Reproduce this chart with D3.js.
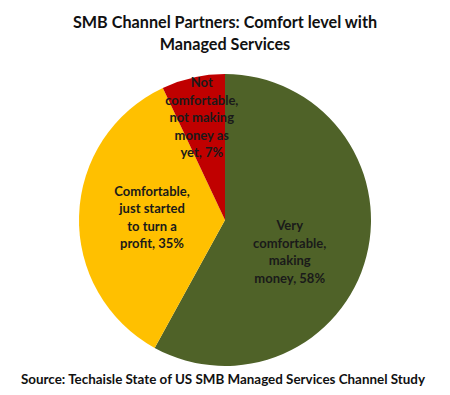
<!DOCTYPE html>
<html><head><meta charset="utf-8">
<script src="https://cdn.jsdelivr.net/npm/d3@7"></script>
<style>body{margin:0;background:#fff}svg{display:block}</style>
</head><body>
<script>
const categories = ["Very comfortable, making money", "Comfortable, just started to turn a profit", "Not comfortable, not making money as yet"];
const values = [58, 35, 7];
const labelLines = [
  ["Very", "comfortable,", "making", "money, 58%"],
  ["Comfortable,", "just started", "to turn a", "profit, 35%"],
  ["Not", "comfortable,", "not making", "money as", "yet, 7%"]
];
const colors = ["#4f6228", "#ffc000", "#c00000"];
const titleLines = ["SMB Channel Partners: Comfort level with", "Managed Services"];
const sourceText = "Source: Techaisle State of US SMB Managed Services Channel Study";

const W = 450, H = 395;
const cx = 225, cy = 220, R = 146;
const font = "Lato, 'Open Sans', sans-serif";
const svg = d3.select("body").append("svg").attr("width", W).attr("height", H);

svg.selectAll("text.title").data(titleLines).join("text")
  .attr("x", W/2).attr("y", (d,i) => 28 + i*22)
  .attr("text-anchor", "middle").attr("font-family", font).attr("font-weight", "bold")
  .attr("font-size", 16.2).attr("fill", "#111").text(d => d);

const pie = d3.pie().sort(null).value(d => d);
const arcs = pie(values);
const arc = d3.arc().innerRadius(0).outerRadius(R);
const g = svg.append("g").attr("transform", `translate(${cx},${cy})`);
g.selectAll("path").data(arcs).join("path").attr("d", arc).attr("fill", (d,i) => colors[i]);

const labelR = [0.5, 0.5, 0.73];
const labelShift = [[-6, 14], [0, 0], [0, 1.5]];
const lh = 17.5;
arcs.forEach((a, i) => {
  const la = d3.arc().innerRadius(R*labelR[i]).outerRadius(R*labelR[i]);
  const [x, y] = la.centroid(a);
  const lines = labelLines[i];
  const x0 = x + labelShift[i][0], y0 = y + labelShift[i][1];
  const t = g.append("text").attr("text-anchor", "middle").attr("font-family", font)
    .attr("font-weight", "bold").attr("font-size", 13).attr("fill", "#1a1a1a");
  lines.forEach((ln, j) => {
    t.append("tspan").attr("x", x0).attr("y", y0 + (j - (lines.length-1)/2)*lh + 4.5).text(ln);
  });
});

svg.append("text").attr("x", W/2 - 2).attr("y", 384).attr("text-anchor", "middle")
  .attr("font-family", font).attr("font-weight", "bold").attr("font-size", 13.4)
  .attr("fill", "#111").text(sourceText);
</script>
</body></html>
